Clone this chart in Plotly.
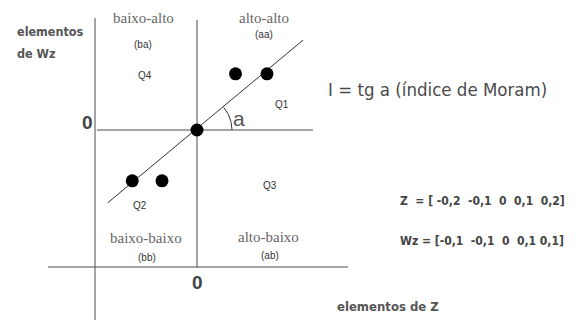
import numpy as np
import plotly.graph_objects as go

# estimated positions of the dots (Z, Wz)
z_pts = [-0.185, -0.1, 0, 0.11, 0.2]
wz_pts = [-0.095, -0.095, 0, 0.105, 0.105]

# fitted line ends
line_z = [-0.255, 0.303]
line_wz = [-0.136, 0.168]

# texts
z_vals = ["-0,2", "-0,1", "0", "0,1", "0,2"]
wz_vals = ["-0,1", "-0,1", "0", "0,1", "0,1"]
quad_names = ["baixo-alto", "alto-alto", "baixo-baixo", "alto-baixo"]
quad_codes = ["(ba)", "(aa)", "(bb)", "(ab)"]
quad_q = ["Q4", "Q1", "Q2", "Q3"]

W, H = 576, 320
X0, Y0, SX, SY = 197, 130, 350.0, 535.0  # pixel of origin, px per unit


def dx(px):
    return (px - X0) / SX


def dy(py):
    return (Y0 - py) / SY


axis_col = "#4a4a4a"
fig = go.Figure()

# axes
fig.add_trace(go.Scatter(x=[0, 0], y=[dy(20), dy(267)], mode="lines",
                         line=dict(color=axis_col, width=1)))
fig.add_trace(go.Scatter(x=[dx(97), dx(313)], y=[0, 0], mode="lines",
                         line=dict(color=axis_col, width=1)))
fig.add_trace(go.Scatter(x=[dx(95), dx(95)], y=[dy(18), dy(322)], mode="lines",
                         line=dict(color=axis_col, width=1)))
fig.add_trace(go.Scatter(x=[dx(48), dx(348)], y=[dy(267), dy(267)], mode="lines",
                         line=dict(color=axis_col, width=1)))

# regression line
fig.add_trace(go.Scatter(x=line_z, y=line_wz, mode="lines",
                         line=dict(color="#333333", width=1)))

# angle arc
ang = np.linspace(0, np.arctan2(line_wz[1] * SY, line_z[1] * SX), 30)
r = 35
fig.add_trace(go.Scatter(x=r * np.cos(ang) / SX, y=r * np.sin(ang) / SY, mode="lines",
                         line=dict(color="#333333", width=1)))

# dots
fig.add_trace(go.Scatter(x=z_pts, y=wz_pts, mode="markers",
                         marker=dict(color="black", size=13)))


def txt(px, py, s, size, color, family, bold=False, anchor="center"):
    if bold:
        s = "<b>" + s + "</b>"
    fig.add_annotation(x=dx(px), y=dy(py), text=s, showarrow=False,
                       xanchor=anchor, yanchor="middle",
                       font=dict(size=size, color=color, family=family))


serif = "Liberation Serif"
sans = "Liberation Sans"
narrow = "DejaVu Sans Condensed, Liberation Sans Narrow, Liberation Sans"

name_pos = [(143, 18), (264, 18), (146, 238), (268, 237)]
code_pos = [(143, 44), (264, 34), (147, 257), (270, 255)]
q_pos = [(145, 75), (282, 104), (140, 205), (270, 185)]
for i in range(4):
    txt(*name_pos[i], quad_names[i], 15, "#666666", serif)
    txt(*code_pos[i], quad_codes[i], 10, "#333333", sans)
    txt(*q_pos[i], quad_q[i], 10, "#333333", sans)

txt(15, 31, "elementos", 12.5, "#555555", narrow, True, "left")
txt(15, 53, "de Wz", 12.5, "#555555", narrow, True, "left")
txt(87, 122, "0", 19, "#444444", sans, True)
txt(197, 282, "0", 19, "#444444", sans, True)
txt(239, 118, "a", 21, "#555555", sans)
txt(326, 89, "I = tg a (índice de Moram)", 18.5, "#4a4a4a", narrow, False, "left")
txt(398, 201, "Z  = [ " + "  ".join(z_vals) + "]", 12, "#444444", narrow, True, "left")
txt(398, 241, "Wz = [" + "  ".join(wz_vals[:4]) + " " + wz_vals[4] + "]", 12, "#444444",
    narrow, True, "left")
txt(335, 306, "elementos de Z", 13, "#555555", narrow, True, "left")

fig.update_layout(
    width=W, height=H, margin=dict(l=0, r=0, t=0, b=0),
    paper_bgcolor="white", plot_bgcolor="white", showlegend=False,
    xaxis=dict(range=[dx(0), dx(W)], visible=False, fixedrange=True),
    yaxis=dict(range=[dy(H), dy(0)], visible=False, fixedrange=True),
)

fig.write_html("out.html", config=dict(displayModeBar=False),
               post_script="document.body.style.margin='0';")
